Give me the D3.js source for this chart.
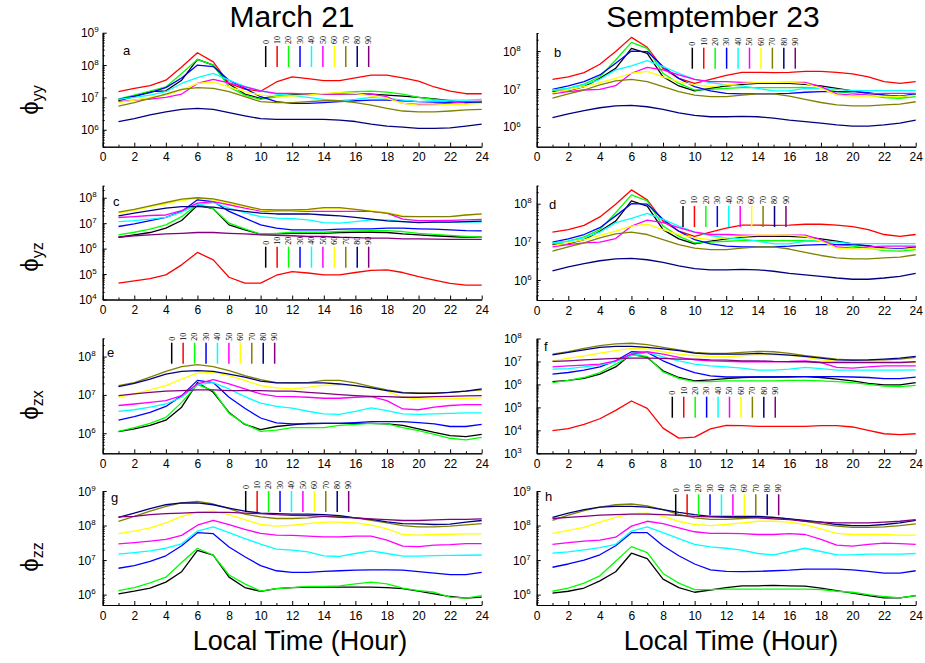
<!DOCTYPE html>
<html>
<head>
<meta charset="utf-8">
<script src="https://cdn.jsdelivr.net/npm/d3@7"></script>
<style>
  body { margin: 0; background: #fff; }
  svg { display: block; }
  text { font-family: Arial, "Liberation Sans", sans-serif; fill: #000; }
</style>
</head>
<body>
<svg id="chart" width="925" height="663"></svg>
<script>
// hours of the day and the incidence angles (series)
var hours = d3.range(1, 25);
var xMajorTicks = [0, 2, 4, 6, 8, 10, 12, 14, 16, 18, 20, 22, 24];
var xMinorTicks = [1, 3, 5, 7, 9, 11, 13, 15, 17, 19, 21, 23];
var angleLabels = ["0", "10", "20", "30", "40", "50", "60", "70", "80", "90"];
var lineColors = ["#000000", "#ff0000", "#00ff00", "#0000ff", "#00ffff",
                  "#ff00ff", "#ffff00", "#808000", "#000080", "#800080"];

// series order: 0,10,20,...,90 ; null = not drawn in that panel
var marchYY = [
  [7.9e6,1.05e7,1.5e7,1.6e7,3.4e7,1.5e8,1.0e8,2.6e7,1.27e7,9.3e6,1.1e7,1.2e7,1.27e7,1.27e7,1.3e7,1.3e7,1.27e7,1.18e7,1.1e7,1.0e7,9e6,7.9e6,6.9e6,6.9e6],
  [1.5e7,1.9e7,2.3e7,3.4e7,8.7e7,2.4e8,1.25e8,2.7e7,1.8e7,1.55e7,3.0e7,4.3e7,3.8e7,3.3e7,3.3e7,4.0e7,4.9e7,4.9e7,4.0e7,3.2e7,2.1e7,1.56e7,1.3e7,1.3e7],
  [9e6,1.18e7,1.57e7,2.1e7,5.5e7,1.5e8,1.0e8,2.1e7,1.18e7,8.7e6,1.05e7,1.15e7,1.2e7,1.27e7,1.4e7,1.5e7,1.57e7,1.45e7,1.27e7,1.0e7,8.7e6,7.7e6,6.9e6,7.4e6],
  [8.7e6,1.1e7,1.4e7,2.0e7,4.0e7,1.0e8,9e7,3.4e7,1.9e7,1.05e7,7.4e6,6.5e6,6.5e6,6.9e6,7.4e6,7.9e6,8.3e6,8.3e6,7.9e6,7.4e6,7.2e6,7e6,6.9e6,7.4e6],
  [8.7e6,1.0e7,1.18e7,1.5e7,2.7e7,4.1e7,5.5e7,3.4e7,2.2e7,1.6e7,1.27e7,1.13e7,1.0e7,8.7e6,7.9e6,8.7e6,1.0e7,9.3e6,8.3e6,7.4e6,7.9e6,8.3e6,8.3e6,8.7e6],
  [7.4e6,8.3e6,8.9e6,1.0e7,1.27e7,2.7e7,3.6e7,2.8e7,2.1e7,1.6e7,1.33e7,1.33e7,1.27e7,1.27e7,1.27e7,1.33e7,1.27e7,1.05e7,6.5e6,6.1e6,6.2e6,6.5e6,7.4e6,7.7e6],
  [6.9e6,8.3e6,1.0e7,1.18e7,1.7e7,2.7e7,3.0e7,2.1e7,1.5e7,1.18e7,1.1e7,1.1e7,1.18e7,1.33e7,1.4e7,1.33e7,1.1e7,9.3e6,6.5e6,5.8e6,5.8e6,6.1e6,6.1e6,6.5e6],
  [5.4e6,6.9e6,9.3e6,1.27e7,1.76e7,2.0e7,1.9e7,1.5e7,1.05e7,7.4e6,6.9e6,6.9e6,7.4e6,7.9e6,7.9e6,6.9e6,5.8e6,4.6e6,3.8e6,3.6e6,3.6e6,3.8e6,4.1e6,4.3e6],
  [1.8e6,2.2e6,2.9e6,3.6e6,4.3e6,4.6e6,4.3e6,3.4e6,2.7e6,2.2e6,2.1e6,2.1e6,2.1e6,2.1e6,2.0e6,1.8e6,1.5e6,1.3e6,1.2e6,1.1e6,1.1e6,1.15e6,1.3e6,1.5e6],
  null
];

var septYY = [
  [8.5e6,9.0e6,1.15e7,1.9e7,3.5e7,1.18e8,8.7e7,2.1e7,1.2e7,8.9e6,1.04e7,1.2e7,1.33e7,1.4e7,1.4e7,1.4e7,1.33e7,1.2e7,1.04e7,8.9e6,7.7e6,6.9e6,6.3e6,7.2e6],
  [1.8e7,2.1e7,2.7e7,4.5e7,9.7e7,2.3e8,1.26e8,3.5e7,1.9e7,1.4e7,1.8e7,2.3e7,2.75e7,2.75e7,2.7e7,2.75e7,2.9e7,2.9e7,2.75e7,2.5e7,2.1e7,1.56e7,1.4e7,1.56e7],
  [9e6,1.04e7,1.35e7,2.1e7,5.8e7,1.7e8,1.18e8,2.6e7,1.4e7,9.4e6,9.8e6,1.04e7,1.08e7,1.08e7,1.08e7,1.08e7,1.1e7,1.04e7,8.5e6,7.7e6,6.9e6,5.9e6,5.7e6,6.3e6],
  [9.8e6,1.2e7,1.56e7,2.35e7,4.8e7,1.0e8,9.7e7,3.9e7,1.9e7,1.15e7,8.9e6,7.7e6,7.4e6,7.4e6,7.4e6,7.7e6,8.2e6,8.5e6,8.5e6,8.5e6,8.0e6,6.9e6,6.5e6,7.4e6],
  [9.4e6,1.04e7,1.28e7,1.8e7,3.2e7,4.1e7,5.6e7,3.9e7,2.6e7,1.8e7,1.47e7,1.28e7,1.2e7,1.04e7,8.9e6,8.9e6,1.04e7,1.04e7,9.8e6,9e6,9e6,9e6,9e6,9e6],
  [7.4e6,8.5e6,9.4e6,9.8e6,1.22e7,2.6e7,3.7e7,3.2e7,2.35e7,1.8e7,1.56e7,1.56e7,1.5e7,1.47e7,1.47e7,1.5e7,1.5e7,1.15e7,7.4e6,6.9e6,7.4e6,7.7e6,7.7e6,7.7e6],
  [8.0e6,9.4e6,1.15e7,1.47e7,1.9e7,2.6e7,2.9e7,2.1e7,1.56e7,1.28e7,1.15e7,1.28e7,1.4e7,1.5e7,1.5e7,1.5e7,1.4e7,1.04e7,6.9e6,6.5e6,6.5e6,6.5e6,6.3e6,6.9e6],
  [5.7e6,7.4e6,9.4e6,1.28e7,1.63e7,1.8e7,1.56e7,1.15e7,8.5e6,6.9e6,6.3e6,6.3e6,6.9e6,7.4e6,7.4e6,6.5e6,5.3e6,4.4e6,3.8e6,3.6e6,3.6e6,3.8e6,4.0e6,4.6e6],
  [1.75e6,2.2e6,2.7e6,3.2e6,3.6e6,3.7e6,3.4e6,2.9e6,2.35e6,2.0e6,1.85e6,1.85e6,1.9e6,1.85e6,1.7e6,1.5e6,1.37e6,1.25e6,1.13e6,1.05e6,1.05e6,1.13e6,1.25e6,1.5e6],
  null
];

var marchYZ = [
  [2.8e6,3.5e6,4.3e6,6.4e6,1.27e7,5e7,3.7e7,8.6e6,5.5e6,3.7e6,3.8e6,4.0e6,4.0e6,4.0e6,4.3e6,4.4e6,4.4e6,4.3e6,3.8e6,3.5e6,3.2e6,3.0e6,2.8e6,2.8e6],
  [4.4e4,5.4e4,6.6e4,9.3e4,2.3e5,7.1e5,3.6e5,7.5e4,4.4e4,4.4e4,9e4,1.25e5,1.1e5,9.3e4,9.3e4,1.15e5,1.4e5,1.45e5,1.15e5,7.9e4,5.8e4,4.3e4,3.7e4,3.7e4],
  [3.5e6,4.4e6,5.8e6,8.6e6,1.8e7,5.6e7,3.7e7,1.0e7,6.0e6,3.7e6,4.0e6,4.4e6,4.4e6,4.4e6,4.7e6,5.0e6,5.1e6,5.1e6,4.7e6,4.0e6,3.6e6,3.3e6,3.0e6,2.8e6],
  [7.4e6,9.4e6,1.27e7,1.7e7,2.9e7,8.3e7,7.1e7,2.9e7,1.57e7,8.6e6,6.4e6,5.5e6,5.5e6,5.5e6,5.8e6,6.0e6,6.0e6,6.4e6,6.4e6,6.0e6,5.8e6,5.5e6,5.1e6,5.0e6],
  [1.16e7,1.27e7,1.44e7,1.7e7,2.7e7,5.3e7,6.5e7,3.9e7,2.6e7,1.8e7,1.57e7,1.5e7,1.35e7,1.06e7,1.0e7,1.16e7,1.35e7,1.35e7,1.16e7,1.1e7,1.1e7,1.1e7,1.1e7,1.1e7],
  [1.67e7,1.8e7,2.0e7,2.1e7,3.1e7,6.1e7,7.0e7,5.3e7,3.9e7,3.0e7,2.9e7,2.9e7,2.9e7,2.9e7,2.9e7,2.9e7,2.9e7,2.5e7,1.44e7,1.27e7,1.25e7,1.3e7,1.35e7,1.4e7],
  [2.5e7,3.1e7,4.5e7,5.8e7,7.8e7,9.6e7,8.3e7,6.1e7,4.5e7,3.3e7,3.0e7,3.0e7,3.3e7,3.9e7,3.9e7,3.5e7,3.1e7,2.6e7,2.0e7,1.8e7,1.8e7,1.85e7,2.1e7,2.2e7],
  [2.7e7,3.5e7,4.8e7,6.5e7,8.8e7,1.0e8,9.1e7,6.7e7,4.8e7,3.5e7,3.3e7,3.3e7,3.5e7,4.1e7,4.1e7,3.5e7,2.9e7,2.5e7,1.8e7,1.8e7,1.8e7,1.8e7,2.1e7,2.3e7],
  [1.95e7,2.5e7,3.1e7,3.9e7,4.5e7,4.5e7,4.3e7,3.5e7,2.9e7,2.5e7,2.3e7,2.3e7,2.3e7,2.1e7,1.95e7,1.7e7,1.44e7,1.24e7,1.16e7,1.06e7,1.1e7,1.1e7,1.15e7,1.2e7],
  [2.8e6,3.2e6,3.5e6,3.8e6,4e6,4.3e6,4.3e6,4e6,3.8e6,3.5e6,3.3e6,3.2e6,3.0e6,3.0e6,2.8e6,2.7e6,2.6e6,2.6e6,2.4e6,2.4e6,2.35e6,2.3e6,2.3e6,2.3e6]
];

// panel d shows the same curves as panel b
var septYZ = septYY;

var marchZX = [
  [1.1e6,1.3e6,1.6e6,2.2e6,4.8e6,2.1e7,1.17e7,3.5e6,1.7e6,1.25e6,1.5e6,1.65e6,1.8e6,1.8e6,1.8e6,1.8e6,1.8e6,1.75e6,1.6e6,1.3e6,1.05e6,8.7e5,8.2e5,9.3e5],
  null,
  [1.12e6,1.4e6,1.8e6,2.6e6,6.4e6,1.86e7,1.3e7,3.3e6,1.75e6,1.12e6,1.2e6,1.4e6,1.4e6,1.4e6,1.6e6,1.7e6,1.8e6,1.75e6,1.4e6,1.17e6,9.3e5,7.4e5,6.7e5,7.8e5],
  [2.2e6,2.7e6,3.5e6,5.0e6,9.6e6,2.4e7,2.1e7,8.7e6,4.5e6,2.5e6,1.86e6,1.75e6,1.75e6,1.8e6,1.8e6,1.9e6,2.0e6,2.0e6,2.0e6,1.9e6,1.75e6,1.5e6,1.5e6,1.7e6],
  [3.7e6,4.1e6,4.8e6,5.8e6,8.7e6,1.86e7,2.1e7,1.43e7,9e6,6.1e6,5.0e6,4.5e6,3.75e6,3.2e6,3.1e6,3.7e6,4.6e6,3.9e6,3.2e6,3.1e6,3.2e6,3.3e6,3.4e6,3.4e6],
  [5.3e6,5.8e6,6.4e6,7.1e6,9.6e6,1.94e7,2.5e7,1.94e7,1.43e7,1.06e7,9.2e6,9e6,8.7e6,8.2e6,8.2e6,8.7e6,9e6,7.1e6,4.3e6,4.1e6,4.8e6,5.3e6,5.6e6,5.6e6],
  [8.7e6,1.06e7,1.35e7,1.75e7,2.6e7,3.7e7,3.9e7,3.2e7,2.4e7,1.75e7,1.52e7,1.43e7,1.58e7,1.8e7,1.8e7,1.75e7,1.52e7,1.25e7,8.7e6,7.9e6,7.9e6,7.9e6,8.2e6,8.4e6],
  [1.75e7,2.1e7,2.9e7,4.1e7,5.5e7,6.2e7,5.5e7,4.3e7,3.2e7,2.5e7,2.1e7,2.05e7,2.1e7,2.4e7,2.4e7,2.05e7,1.65e7,1.35e7,1.17e7,1.13e7,1.13e7,1.17e7,1.25e7,1.35e7],
  [1.65e7,2.0e7,2.6e7,3.5e7,4.1e7,4.3e7,4.1e7,3.5e7,2.9e7,2.3e7,2.05e7,2.05e7,2.05e7,2.05e7,1.93e7,1.75e7,1.52e7,1.3e7,1.13e7,1.1e7,1.1e7,1.17e7,1.25e7,1.43e7],
  [9.6e6,1.06e7,1.17e7,1.25e7,1.3e7,1.35e7,1.35e7,1.3e7,1.3e7,1.3e7,1.25e7,1.25e7,1.17e7,1.1e7,1.02e7,9.6e6,9.2e6,9.0e6,8.7e6,8.7e6,9e6,9.2e6,9.4e6,9.6e6]
];

var septZX = [
  [1.32e6,1.5e6,1.85e6,2.8e6,5.8e6,2.1e7,1.5e7,3.9e6,2e6,1.42e6,1.57e6,1.8e6,2e6,2.1e6,2.1e6,2.2e6,2.2e6,2.0e6,1.7e6,1.42e6,1.1e6,9.5e5,9.5e5,1.2e6],
  [9.8e3,1.2e4,1.8e4,3.2e4,7.4e4,1.9e5,9e4,1.25e4,4.6e3,5.1e3,1.15e4,1.65e4,1.6e4,1.5e4,1.5e4,1.5e4,1.5e4,1.6e4,1.6e4,1.4e4,1e4,7.1e3,6.5e3,7.1e3],
  [1.2e6,1.5e6,2e6,3.3e6,7.6e6,1.9e7,1.65e7,3.5e6,1.85e6,1.32e6,1.32e6,1.42e6,1.42e6,1.42e6,1.42e6,1.5e6,1.5e6,1.42e6,1.32e6,1.2e6,1e6,8.5e5,8e5,9e5],
  [2.8e6,3.3e6,4.2e6,5.8e6,1.07e7,2.65e7,2.5e7,1.07e7,5.5e6,3.3e6,2.35e6,2.1e6,2.1e6,2.1e6,2.1e6,2.1e6,2.2e6,2.2e6,2.2e6,2.1e6,2e6,1.8e6,1.8e6,2.1e6],
  [4.6e6,4.9e6,5.8e6,6.9e6,9.7e6,1.77e7,2.5e7,1.6e7,1.07e7,7.6e6,6.4e6,5.8e6,5.1e6,4.2e6,4.2e6,4.6e6,5.5e6,4.9e6,4.2e6,4.2e6,4.2e6,4.2e6,4.2e6,4.3e6],
  [5.8e6,6.4e6,6.9e6,7.6e6,1.07e7,2.1e7,2.65e7,2.1e7,1.5e7,1.18e7,1.07e7,1e7,9.7e6,9.7e6,9.7e6,1e7,1.07e7,9e6,5.5e6,5.1e6,5.8e6,6.4e6,6.4e6,6.4e6],
  [1.07e7,1.35e7,1.77e7,2.3e7,2.95e7,3.7e7,3.5e7,2.65e7,2.1e7,1.77e7,1.65e7,1.6e7,1.77e7,1.95e7,1.95e7,1.9e7,1.5e7,1.18e7,1e7,9e6,9e6,9e6,9e6,9e6],
  [2.1e7,2.65e7,3.7e7,4.9e7,5.8e7,6.2e7,5.4e7,4.1e7,3.2e7,2.5e7,2.25e7,2.25e7,2.5e7,2.75e7,2.65e7,2.25e7,1.77e7,1.5e7,1.27e7,1.15e7,1.15e7,1.18e7,1.27e7,1.5e7],
  [1.95e7,2.5e7,3.2e7,4.1e7,4.5e7,4.5e7,4.1e7,3.5e7,2.95e7,2.3e7,2.1e7,2.1e7,2.1e7,2.25e7,2.1e7,1.9e7,1.65e7,1.4e7,1.18e7,1.15e7,1.18e7,1.27e7,1.4e7,1.65e7],
  [1e7,1.07e7,1.18e7,1.27e7,1.35e7,1.4e7,1.4e7,1.35e7,1.27e7,1.27e7,1.18e7,1.15e7,1.07e7,1.07e7,1e7,9.7e6,9.7e6,9e6,9e6,9e6,9e6,9e6,9e6,9.7e6]
];

var marchZZ = [
  [1.05e6,1.26e6,1.55e6,2.3e6,4.6e6,1.9e7,1.38e7,3.2e6,1.6e6,1.24e6,1.48e6,1.6e6,1.65e6,1.65e6,1.65e6,1.65e6,1.65e6,1.6e6,1.48e6,1.26e6,1.05e6,8.8e5,7.9e5,8.4e5],
  null,
  [1.3e6,1.6e6,2.2e6,3.2e6,8.5e6,2.2e7,1.38e7,3.7e6,2.05e6,1.26e6,1.48e6,1.6e6,1.73e6,1.73e6,1.8e6,2.05e6,2.3e6,2.05e6,1.55e6,1.3e6,1.17e6,8.4e5,7.9e5,9.3e5],
  [5.8e6,6.9e6,9.2e6,1.33e7,2.6e7,6.2e7,5.8e7,2.4e7,1.25e7,6.9e6,4.9e6,4.4e6,4.4e6,4.7e6,4.9e6,5.1e6,5.2e6,5.2e6,5.1e6,4.6e6,4.2e6,3.8e6,3.8e6,4.4e6],
  [1.48e7,1.65e7,1.85e7,2.2e7,2.95e7,6.9e7,9.2e7,6.2e7,4.2e7,2.9e7,2.07e7,1.93e7,1.73e7,1.33e7,1.27e7,1.55e7,1.85e7,1.55e7,1.3e7,1.3e7,1.35e7,1.37e7,1.38e7,1.4e7],
  [2.95e7,3.2e7,3.55e7,3.97e7,5.2e7,1.02e8,1.42e8,1.07e8,7.7e7,5.9e7,5.3e7,5.2e7,4.95e7,4.7e7,4.7e7,4.95e7,4.95e7,3.8e7,2.55e7,2.45e7,2.7e7,2.8e7,3.0e7,3.0e7],
  [5.8e7,6.9e7,8.5e7,1.2e8,1.85e8,2.46e8,2.6e8,2.06e8,1.48e8,1.07e8,9.6e7,1.02e8,1.14e8,1.25e8,1.25e8,1.2e8,1.02e8,8e7,5.5e7,5.3e7,5.5e7,5.6e7,5.7e7,5.7e7],
  [1.33e8,1.85e8,2.6e8,3.6e8,4.5e8,5e8,4.2e8,3.1e8,2.15e8,1.77e8,1.6e8,1.6e8,1.66e8,1.85e8,1.85e8,1.66e8,1.42e8,1.2e8,1e8,9.2e7,9.2e7,9.6e7,1.05e8,1.14e8],
  [1.73e8,2.3e8,3.1e8,4e8,4.5e8,4.5e8,4e8,3.2e8,2.6e8,2.3e8,2.2e8,2.15e8,2.15e8,2.06e8,1.93e8,1.66e8,1.5e8,1.27e8,1.14e8,1.12e8,1.07e8,1.1e8,1.25e8,1.4e8],
  [1.77e8,1.85e8,2.06e8,2.2e8,2.3e8,2.4e8,2.4e8,2.4e8,2.3e8,2.2e8,2.06e8,1.98e8,1.93e8,1.85e8,1.73e8,1.66e8,1.55e8,1.48e8,1.4e8,1.4e8,1.45e8,1.5e8,1.5e8,1.55e8]
];

var septZZ = [
  [1.1e6,1.25e6,1.55e6,2.5e6,4.6e6,1.58e7,1.1e7,2.8e6,1.6e6,1.17e6,1.36e6,1.6e6,1.8e6,1.8e6,1.85e6,1.8e6,1.75e6,1.55e6,1.3e6,1.1e6,9.4e5,8e5,8e5,9.4e5],
  null,
  [1.25e6,1.55e6,2.15e6,3.5e6,9.2e6,2.45e7,1.65e7,4.1e6,2.15e6,1.4e6,1.4e6,1.45e6,1.45e6,1.45e6,1.45e6,1.45e6,1.45e6,1.4e6,1.25e6,1.17e6,1e6,8.8e5,8e5,9.4e5],
  [6.2e6,7.7e6,1e7,1.42e7,2.6e7,6.2e7,6.2e7,2.6e7,1.33e7,7.7e6,5.2e6,4.7e6,4.6e6,4.7e6,4.9e6,5.1e6,5.5e6,5.5e6,5.5e6,5.2e6,4.7e6,4.2e6,4.2e6,4.9e6],
  [1.58e7,1.73e7,1.98e7,2.3e7,2.85e7,6.9e7,9.2e7,6.2e7,4.2e7,2.85e7,2.4e7,2.2e7,1.93e7,1.55e7,1.42e7,1.77e7,2.2e7,1.77e7,1.42e7,1.42e7,1.48e7,1.48e7,1.48e7,1.55e7],
  [2.85e7,3.2e7,3.55e7,3.8e7,4.6e7,9.6e7,1.33e8,1.14e8,8.6e7,6.6e7,5.9e7,5.9e7,5.8e7,5.5e7,5.5e7,5.8e7,5.5e7,4e7,2.7e7,2.55e7,2.85e7,3.1e7,3.0e7,2.85e7],
  [5.9e7,7.2e7,8.9e7,1.25e8,1.73e8,2.2e8,2.3e8,1.85e8,1.33e8,1.07e8,1e8,1.07e8,1.19e8,1.33e8,1.33e8,1.25e8,1.07e8,8e7,5.9e7,5.5e7,5.5e7,5.5e7,5.3e7,5.3e7],
  [1.4e8,2e8,2.7e8,3.4e8,4e8,4.2e8,3.7e8,2.9e8,2.1e8,1.66e8,1.5e8,1.5e8,1.6e8,1.73e8,1.73e8,1.55e8,1.33e8,1.12e8,9.6e7,8.9e7,8.9e7,9.2e7,1e8,1.12e8],
  [1.73e8,2.3e8,2.9e8,3.4e8,3.6e8,3.6e8,3.4e8,2.9e8,2.4e8,2.06e8,1.85e8,1.85e8,1.85e8,1.85e8,1.73e8,1.55e8,1.4e8,1.25e8,1.07e8,1e8,1e8,1.07e8,1.2e8,1.42e8],
  [1.6e8,1.73e8,1.85e8,2e8,2.06e8,2.15e8,2.15e8,2.06e8,1.98e8,1.85e8,1.77e8,1.73e8,1.73e8,1.66e8,1.55e8,1.48e8,1.33e8,1.25e8,1.19e8,1.19e8,1.19e8,1.25e8,1.33e8,1.48e8]
];

// layout of the eight panels
var plotW = 379;
var panels = [
  {id: "a", data: marchYY, left: 102.7, top: 32.7, bottom: 146.7, domain: [3e5, 1e9], gap: 4,  legX: 265.7, legY: 46,    letter: [123, 55]},
  {id: "b", data: septYY,  left: 536.7, top: 33,   bottom: 146.7, domain: [3e5, 3e8], gap: 16, legX: 692.3, legY: 47.7,  letter: [554, 57]},
  {id: "c", data: marchYZ, left: 102.7, top: 185.6, bottom: 299.5, domain: [1e4, 3e8], gap: 6, legX: 265.7, legY: 246.7, letter: [113, 206]},
  {id: "d", data: septYZ,  left: 536.7, top: 185.5, bottom: 300, domain: [3e5, 3e8], gap: 5,   legX: 683,   legY: 206,   letter: [549, 209]},
  {id: "e", data: marchZX, left: 102.7, top: 338.3, bottom: 453.3, domain: [3e5, 3e8], gap: 7, legX: 171.7, legY: 342.7, letter: [107, 357]},
  {id: "f", data: septZX,  left: 536.7, top: 338.5, bottom: 453.3, domain: [1e3, 1e8], gap: 15, legX: 672.3, legY: 396.7, letter: [544, 351]},
  {id: "g", data: marchZZ, left: 102.7, top: 491, bottom: 605, domain: [5e5, 1e9], gap: 7,     legX: 245.7, legY: 491,   letter: [111, 502]},
  {id: "h", data: septZZ,  left: 536.7, top: 491, bottom: 605, domain: [5e5, 1e9], gap: 6,     legX: 675.7, legY: 494.3, letter: [545, 501]}
];

var svg = d3.select("#chart");

panels.forEach(function(p) {
  var h = p.bottom - p.top;
  var g = svg.append("g").attr("transform", "translate(" + p.left + "," + p.top + ")");

  var x = d3.scaleLinear().domain([0, 24]).range([0, plotW]);
  var y = d3.scaleLog().domain(p.domain).range([h, 0]);

  // bottom axis
  g.append("g")
    .attr("transform", "translate(0," + h + ")")
    .call(d3.axisBottom(x).tickValues(xMinorTicks).tickSize(-2).tickSizeOuter(0).tickFormat(""));
  var xa = g.append("g")
    .attr("transform", "translate(0," + h + ")")
    .call(d3.axisBottom(x).tickValues(xMajorTicks).tickSize(-4).tickSizeOuter(0).tickPadding(6));
  xa.selectAll("text").style("font-size", "12px").attr("fill", "#000");

  // left log axis
  var lo = Math.log10(p.domain[0]), hi = Math.log10(p.domain[1]);
  var majors = d3.range(Math.ceil(lo), Math.floor(hi) + 1);
  var minors = [];
  for (var e = Math.floor(lo); e <= Math.ceil(hi); e++) {
    for (var k = 2; k <= 9; k++) {
      var v = k * Math.pow(10, e);
      if (v >= p.domain[0] && v <= p.domain[1]) minors.push(v);
    }
  }
  g.append("g")
    .call(d3.axisLeft(y).tickValues(minors).tickSize(-2).tickSizeOuter(0).tickFormat(""));
  g.append("g")
    .call(d3.axisLeft(y).tickValues(majors.map(function(m) { return Math.pow(10, m); }))
      .tickSize(-4).tickSizeOuter(0).tickFormat(""));
  g.selectAll(".domain").attr("stroke", "#000");
  g.selectAll(".tick line").attr("stroke", "#000");

  majors.forEach(function(m) {
    var t = g.append("text")
      .attr("x", -p.gap)
      .attr("y", y(Math.pow(10, m)))
      .attr("dy", "0.38em")
      .attr("text-anchor", "end")
      .style("font-size", "12px");
    t.append("tspan").text("10");
    t.append("tspan").attr("dy", "-0.6em").style("font-size", "8px").text(m);
  });

  // curves
  var line = d3.line()
    .x(function(d, i) { return x(hours[i]); })
    .y(function(d) { return y(d); });

  p.data.forEach(function(series, i) {
    if (!series) return;
    g.append("path")
      .datum(series)
      .attr("d", line)
      .attr("fill", "none")
      .attr("stroke", lineColors[i])
      .attr("stroke-width", 1.3)
      .attr("stroke-linejoin", "round");
  });

  // panel letter
  svg.append("text")
    .attr("x", p.letter[0])
    .attr("y", p.letter[1])
    .style("font-size", "13px")
    .text(p.id);

  // legend: short vertical bars with rotated angle labels
  var lg = svg.append("g");
  angleLabels.forEach(function(lab, i) {
    var lx = p.legX + i * 11.44;
    lg.append("line")
      .attr("x1", lx).attr("x2", lx)
      .attr("y1", p.legY).attr("y2", p.legY + 21)
      .attr("stroke", lineColors[i])
      .attr("stroke-width", 1.5);
    lg.append("text")
      .attr("transform", "translate(" + lx + "," + (p.legY - 2) + ") rotate(-90)")
      .attr("dy", "0.35em")
      .style("font-family", "'Liberation Serif', 'DejaVu Serif', serif")
      .style("font-size", "8px")
      .attr("fill", "#333")
      .text(lab);
  });
});

// column titles
svg.append("text").attr("x", 292).attr("y", 27).attr("text-anchor", "middle")
  .style("font-size", "30px").text("March 21");
svg.append("text").attr("x", 713).attr("y", 27).attr("text-anchor", "middle")
  .style("font-size", "30px").text("Semptember 23");

// x axis titles
svg.append("text").attr("x", 300).attr("y", 650).attr("text-anchor", "middle")
  .style("font-size", "27px").text("Local Time (Hour)");
svg.append("text").attr("x", 731).attr("y", 650).attr("text-anchor", "middle")
  .style("font-size", "27px").text("Local Time (Hour)");

// row titles (rotated)
var rowTitles = [["yy", 100], ["yz", 257], ["zx", 405], ["zz", 557]];
rowTitles.forEach(function(r) {
  var t = svg.append("text")
    .attr("transform", "translate(38," + r[1] + ") rotate(-90)")
    .attr("text-anchor", "middle")
    .style("font-size", "24px");
  t.append("tspan").text("\u03d5");
  t.append("tspan").attr("dy", "0.3em").style("font-size", "16px").text(r[0]);
});
</script>
</body>
</html>
